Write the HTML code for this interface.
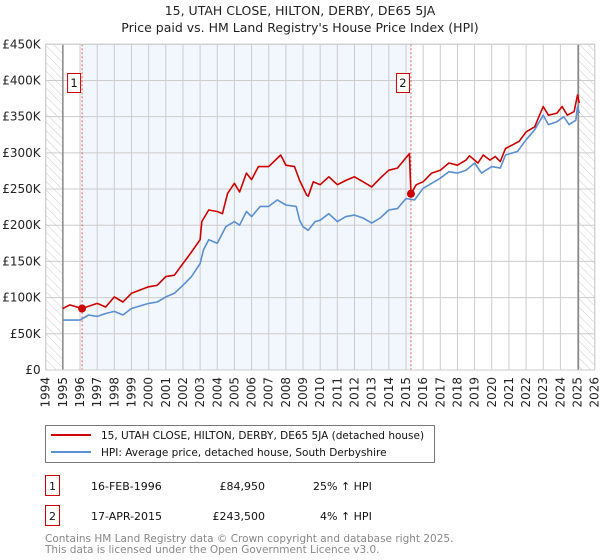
<!DOCTYPE html>
<html><head><meta charset="utf-8"><style>
body{margin:0;background:#fff;font-family:"Liberation Sans","DejaVu Sans",sans-serif;}
svg{display:block}
</style></head><body>
<svg id="c" width="600" height="560" xmlns="http://www.w3.org/2000/svg" font-family="DejaVu Sans, Liberation Sans, sans-serif">
<defs><pattern id="hatch" width="6" height="6" patternUnits="userSpaceOnUse" patternTransform="rotate(-45)"><line x1="0" y1="0" x2="0" y2="6" stroke="#ccc" stroke-width="1"/></pattern></defs>
<text x="300" y="15" text-anchor="middle" font-size="12.5" fill="#222">15, UTAH CLOSE, HILTON, DERBY, DE65 5JA</text>
<text x="300" y="32" text-anchor="middle" font-size="12.5" fill="#222">Price paid vs. HM Land Registry's House Price Index (HPI)</text>
<g id="plot"></g>
<g>
<rect x="45.5" y="425.5" width="389" height="37" fill="#fff" stroke="#777"/>
<line x1="51" y1="435" x2="91" y2="435" stroke="#cc0000" stroke-width="2"/>
<text x="101" y="439" font-size="10.5" fill="#111">15, UTAH CLOSE, HILTON, DERBY, DE65 5JA (detached house)</text>
<line x1="51" y1="452" x2="91" y2="452" stroke="#5b8fd0" stroke-width="2"/>
<text x="101" y="456" font-size="10.5" fill="#111">HPI: Average price, detached house, South Derbyshire</text>
</g>
<g font-size="11" fill="#111">
<rect x="45.5" y="475.5" width="14" height="20" fill="#fff" stroke="#cc0000"/><text x="52.5" y="490" text-anchor="middle">1</text>
<text x="91" y="490">16-FEB-1996</text><text x="265" y="490" text-anchor="end">£84,950</text><text x="313" y="490">25% ↑ HPI</text>
<rect x="45.5" y="505.5" width="14" height="20" fill="#fff" stroke="#cc0000"/><text x="52.5" y="520" text-anchor="middle">2</text>
<text x="91" y="520">17-APR-2015</text><text x="265" y="520" text-anchor="end">£243,500</text><text x="320" y="520">4% ↑ HPI</text>
</g>
<text x="45" y="542" font-size="10.5" fill="#888">Contains HM Land Registry data © Crown copyright and database right 2025.</text>
<text x="45" y="553" font-size="10.5" fill="#888">This data is licensed under the Open Government Licence v3.0.</text>
</svg>
<script>
const redX=[1995,1995.4,1996.12,1997,1997.5,1998,1998.5,1999,2000,2000.5,2001,2001.5,2002,2002.5,2003,2003.1,2003.5,2004,2004.3,2004.6,2005,2005.3,2005.7,2006,2006.4,2007,2007.3,2007.7,2008,2008.5,2008.8,2009.2,2009.3,2009.6,2010,2010.5,2011,2011.5,2012,2012.5,2013,2013.5,2014,2014.5,2015.2,2015.29,2015.6,2016,2016.5,2017,2017.5,2018,2018.5,2018.7,2019.2,2019.5,2019.9,2020.2,2020.5,2020.8,2021.2,2021.6,2022,2022.5,2023,2023.3,2023.8,2024.1,2024.4,2024.8,2025,2025.1];
const redY=[85,90,85,92,87,101,94,106,115,117,129,131,147,163,180,205,221,219,216,244,258,246,272,263,281,281,288,297,283,281,262,242,240,260,256,267,256,262,267,260,253,265,276,279,299,243.5,256,260,272,276,286,283,290,296,286,297,290,295,288,306,311,316,329,336,364,352,355,364,352,357,380,369];
const hpiX=[1995,1996,1996.5,1997,1997.5,1998,1998.5,1999,2000,2000.5,2001,2001.5,2002,2002.5,2003,2003.2,2003.5,2004,2004.5,2005,2005.3,2005.7,2006,2006.5,2007,2007.5,2008,2008.6,2008.8,2009,2009.3,2009.7,2010,2010.5,2011,2011.5,2012,2012.5,2013,2013.5,2014,2014.5,2015,2015.5,2016,2016.5,2017,2017.5,2018,2018.5,2019,2019.4,2020,2020.5,2020.8,2021.5,2022,2022.5,2023,2023.3,2023.8,2024.2,2024.5,2024.9,2025,2025.1];
const hpiY=[69,69,76,74,78,81,76,85,92,94,101,106,117,129,147,166,180,175,198,205,200,219,212,226,226,235,228,226,207,198,193,205,207,216,205,212,214,210,203,210,221,223,237,235,251,258,265,274,272,276,286,272,281,279,297,302,318,332,352,339,343,350,339,345,364,355];
const yTicks=[0,50,100,150,200,250,300,350,400,450];
const yTickLabels=["£0","£50K","£100K","£150K","£200K","£250K","£300K","£350K","£400K","£450K"];
const years=[];for(let y=1994;y<=2026;y++)years.push(y);
const sales=[{x:1996.12,y:84.95,label:"1"},{x:2015.29,y:243.5,label:"2"}];
const X0=45.7,X1=594.7,Y0=370,Y1=44.3;
const sx=v=>X0+(v-1994)/32*(X1-X0);
const sy=v=>Y0-(v/450)*(Y0-Y1);
const NS="http://www.w3.org/2000/svg";
const g=document.getElementById('plot');
function el(t,a){const e=document.createElementNS(NS,t);for(const k in a)e.setAttribute(k,a[k]);g.appendChild(e);return e;}
let e;
e=el('rect',{x:sx(sales[0].x),y:Y1,width:sx(sales[1].x)-sx(sales[0].x),height:Y0-Y1,fill:'#f2f6fd'});


e=el('rect',{x:sx(1994),y:Y1,width:sx(1995)-sx(1994),height:Y0-Y1,fill:'url(#hatch)'});


e=el('rect',{x:sx(2025.05),y:Y1,width:sx(2026)-sx(2025.05),height:Y0-Y1,fill:'url(#hatch)'});


years.forEach(y=>{
 e=el('line',{x1:sx(y),x2:sx(y),y1:Y1,y2:Y0,stroke:'#ccc','stroke-width':1});
 
 
 e=el('text',{x:0,y:0,'font-size':12,fill:'#222','text-anchor':'end',transform:`translate(${sx(y)+4},${Y0+7}) rotate(-90)`});
 e.textContent=y;
 
 
});
yTicks.forEach((v,i)=>{
 e=el('line',{x1:X0,x2:X1,y1:sy(v),y2:sy(v),stroke:'#ccc','stroke-width':1});
 
 
 e=el('text',{x:X0-5,y:sy(v)+4,'font-size':12,fill:'#222','text-anchor':'end'});
 e.textContent=yTickLabels[i];
 
 
});
[1995,2025.05].forEach(v=>{e=el('line',{x1:sx(v),x2:sx(v),y1:Y1,y2:Y0,stroke:'#888','stroke-width':1.5});

});
sales.forEach(s=>{
 e=el('line',{x1:sx(s.x),x2:sx(s.x),y1:Y1,y2:Y0,stroke:'#e06060','stroke-width':1,'stroke-dasharray':'2,2'});
 
 
});
function path(xs,ys,c,name){
 const d=xs.map((x,i)=>(i?'L':'M')+sx(x).toFixed(1)+','+sy(ys[i]).toFixed(1)).join('');
 e=el('path',{d,fill:'none',stroke:c,'stroke-width':1.6,'stroke-linejoin':'round'});
 
 
}
path(hpiX,hpiY,'#5b8fd0','hpi-line');
path(redX,redY,'#cc0000','price-line');
sales.forEach(s=>{
 e=el('circle',{cx:sx(s.x),cy:sy(s.y),r:4,fill:'#cc0000'});
 
 
 e=el('rect',{x:sx(s.x)-14.5,y:73.5,width:13,height:19,fill:'#fff',stroke:'#cc0000'});
 
 
 e=el('text',{x:sx(s.x)-8,y:87,'font-size':11.5,fill:'#111','text-anchor':'middle'});
 e.textContent=s.label;
 
 
});
e=el('rect',{x:X0,y:Y1,width:X1-X0,height:Y0-Y1,fill:'none',stroke:'#ccc'});


</script>
</body></html>
